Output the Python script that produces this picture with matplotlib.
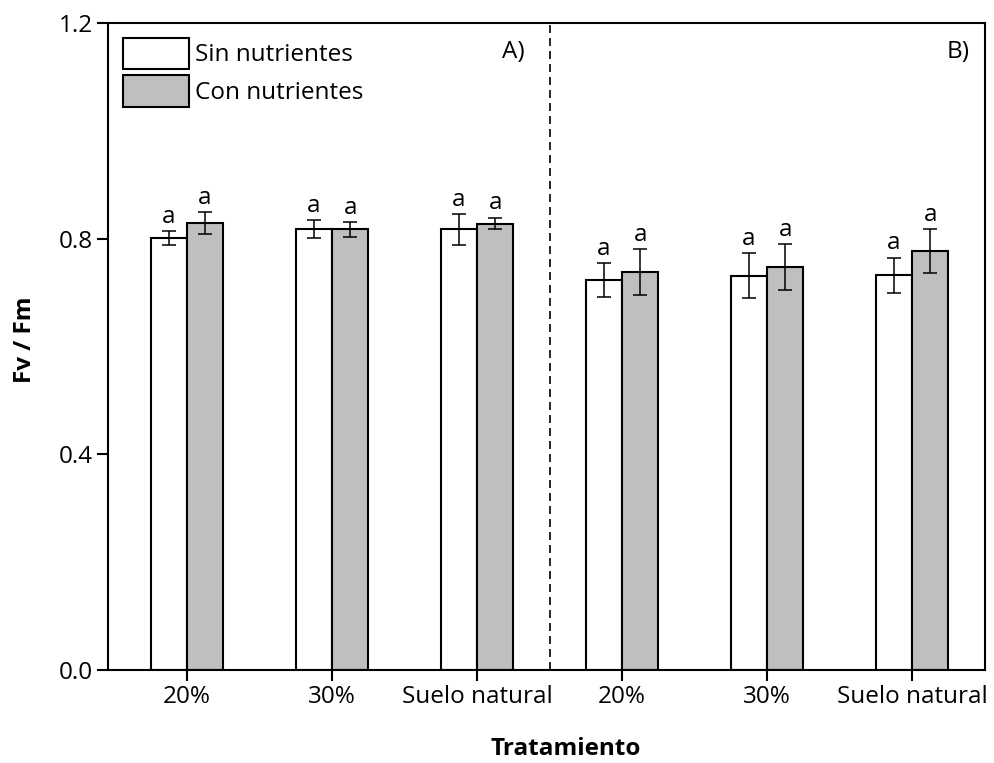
import numpy as np
import matplotlib
matplotlib.use("Agg")
import matplotlib.pyplot as plt

plt.rcParams['font.family'] = ['Open Sans', 'DejaVu Sans']

labels = ["20%", "30%", "Suelo natural", "20%", "30%", "Suelo natural"]
sin_nut = [0.801, 0.818, 0.817, 0.723, 0.731, 0.732]
sin_err = [0.013, 0.017, 0.029, 0.032, 0.042, 0.033]
con_nut = [0.829, 0.817, 0.828, 0.738, 0.747, 0.777]
con_err = [0.020, 0.014, 0.011, 0.042, 0.043, 0.041]
letras_sin = ["a"] * 6
letras_con = ["a"] * 6

x = np.arange(len(labels))
w = 0.25
fs = 17.5

fig = plt.figure(figsize=(9.95, 7.63), dpi=100)
ax = fig.add_axes([0.1085, 0.1219, 0.8815, 0.848])

ekw = dict(elinewidth=1.1, capthick=1.1, ecolor='black')
ax.bar(x - w/2, sin_nut, w, color='white', edgecolor='black', linewidth=1.5,
       yerr=sin_err, capsize=4.7, error_kw=ekw, label='Sin nutrientes', zorder=2)
ax.bar(x + w/2, con_nut, w, color='#bfbfbf', edgecolor='black', linewidth=1.5,
       yerr=con_err, capsize=4.7, error_kw=ekw, label='Con nutrientes', zorder=2)

for i in range(len(x)):
    ax.text(x[i] - w/2, sin_nut[i] + sin_err[i] + 0.004, letras_sin[i],
            ha='center', va='bottom', fontsize=fs)
    ax.text(x[i] + w/2, con_nut[i] + con_err[i] + 0.004, letras_con[i],
            ha='center', va='bottom', fontsize=fs)

ax.axvline(2.5, color='black', linestyle='--', linewidth=1.2, dashes=(4.8, 3))

ax.text(2.248, 1.146, "A)", ha='center', va='center', fontsize=fs)
ax.text(5.317, 1.146, "B)", ha='center', va='center', fontsize=fs)

ax.set_xlim(-0.545, 5.503)
ax.set_ylim(0, 1.2)
ax.set_yticks([0.0, 0.4, 0.8, 1.2])
ax.set_yticklabels(["0.0", "0.4", "0.8", "1.2"])
ax.set_xticks(x)
ax.set_xticklabels(labels)
ax.tick_params(axis='both', direction='out', length=8, width=1.5, labelsize=fs, pad=3)

for s in ax.spines.values():
    s.set_linewidth(1.5)

ax.set_ylabel("Fv / Fm", fontsize=fs, fontweight='bold')
ax.set_xlabel("Tratamiento", fontsize=fs, fontweight='bold')
ax.xaxis.set_label_coords(0.522, -0.103)
ax.yaxis.set_label_coords(-0.081, 0.51)

ax.legend(loc='upper left', frameon=False, fontsize=fs, handlelength=2.75,
          handleheight=1.6, labelspacing=0.27, borderpad=0, borderaxespad=0.6,
          handletextpad=0.25)

fig.savefig("out.png", dpi=100)
